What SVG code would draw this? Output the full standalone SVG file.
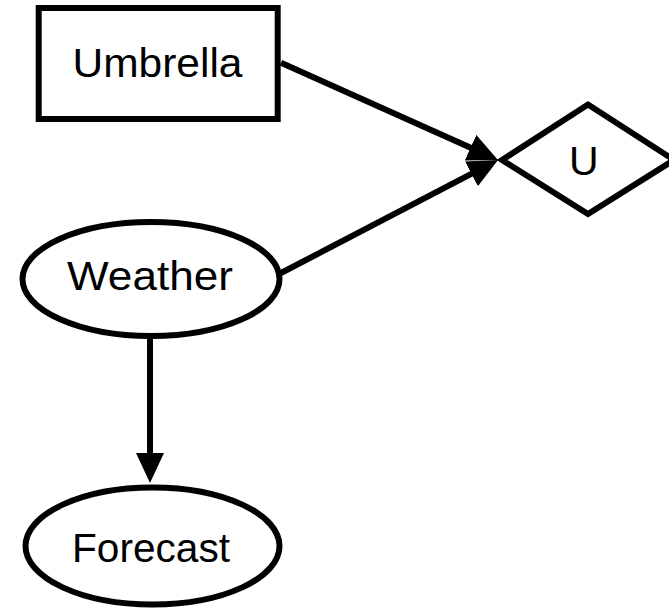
<svg xmlns="http://www.w3.org/2000/svg" width="669" height="609" viewBox="0 0 669 609">
  <defs>
    <style>
      .shape { fill: #ffffff; stroke: #000000; stroke-width: 6; }
      .edge { fill: none; stroke: #000000; stroke-width: 6; }
      .label { font-family: "Liberation Sans", Arial, sans-serif; font-size: 41px; fill: #000000; text-anchor: middle; }
    </style>
    <marker id="arrow" viewBox="0 0 30 28" refX="2" refY="14" markerWidth="30" markerHeight="28" markerUnits="userSpaceOnUse" orient="auto">
      <path d="M0,0 L30,14 L0,28 Z" fill="#000000"/>
    </marker>
  </defs>
  <rect width="669" height="609" fill="#ffffff"/>
  <g id="connectors">
    <line class="edge" x1="281" y1="62.7" x2="472.4" y2="148.5" marker-end="url(#arrow)"/>
    <line class="edge" x1="281" y1="273" x2="473.2" y2="172.9" marker-end="url(#arrow)"/>
    <line class="edge" x1="150" y1="337" x2="150" y2="455" marker-end="url(#arrow)"/>
  </g>
  <g id="umbrella">
    <rect class="shape" x="38.7" y="8" width="239" height="111"/>
    <text class="label" x="157.5" y="77" textLength="170" lengthAdjust="spacingAndGlyphs">Umbrella</text>
  </g>
  <g id="utility">
    <polygon class="shape" points="502,160 588,104.5 674,160 588,214"/>
    <text class="label" x="583.7" y="175">U</text>
  </g>
  <g id="weather">
    <ellipse class="shape" cx="151" cy="279" rx="128.5" ry="57"/>
    <text class="label" x="150" y="290" textLength="166" lengthAdjust="spacingAndGlyphs">Weather</text>
  </g>
  <g id="forecast">
    <ellipse class="shape" cx="152.5" cy="546" rx="127" ry="58.5"/>
    <text class="label" x="151" y="561.5" textLength="158" lengthAdjust="spacingAndGlyphs">Forecast</text>
  </g>
</svg>
